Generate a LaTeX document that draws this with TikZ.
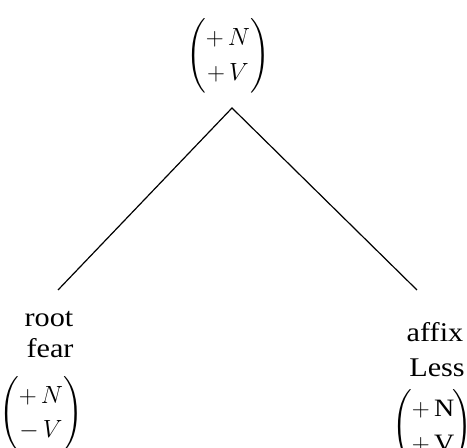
\documentclass[tikz,border=0pt]{standalone}
\usepackage{amsmath}
\usepackage{fontspec}
\setmainfont[FakeStretch=1.12]{Liberation Serif}
\begin{document}
\begin{tikzpicture}[x=1pt,y=1pt,
  lbl/.style={inner sep=0pt,anchor=base,font=\fontsize{27}{32}\selectfont},
  feat/.style={inner sep=0pt,font=\fontsize{25}{30}\selectfont},
  branch/.style={line width=1.2pt}]
\useasboundingbox (0,0) rectangle (467,448);
\node[feat] (top) at (228,392) {$\renewcommand{\arraystretch}{1.15}\begin{pmatrix}+\,N\\+\,V\end{pmatrix}$};
\coordinate (apex) at (232,340);
\coordinate (lend) at (58,158);
\coordinate (rend) at (417,158);
\draw[branch] (lend) -- (apex) -- (rend);
\node[lbl] (root) at (49,121) {root};
\node[lbl] (fear) at (50,90) {fear};
\node[feat] (lf) at (41,34) {$\renewcommand{\arraystretch}{1.13}\begin{pmatrix}+\,N\\-\,V\end{pmatrix}$};
\node[lbl] (affix) at (435,106) {affix};
\node[lbl] (less) at (437,71) {Less};
\node[feat] (rf) at (432,21) {$\renewcommand{\arraystretch}{1.17}\begin{pmatrix}+\,\mathrm{N}\\+\,\mathrm{V}\end{pmatrix}$};
\end{tikzpicture}
\end{document}
